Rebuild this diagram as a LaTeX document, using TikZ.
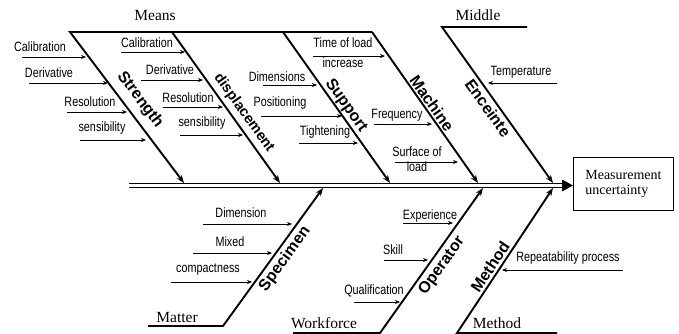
\documentclass[tikz,border=0pt]{standalone}
\usepackage{fontspec}
\setmainfont{Liberation Serif}
\newfontfamily\causefont[FakeStretch=0.8]{Liberation Sans}
\newfontfamily\bonefont{Liberation Sans}
\usetikzlibrary{arrows.meta}
\tikzset{
  cause/.style={font=\causefont\fontsize{13.5}{15}\selectfont, inner sep=0pt},
  causearrow/.style={line width=0.8pt, -{Stealth[length=5pt,width=4pt]}},
  bone/.style={line width=1.9pt, -{Stealth[length=8pt,width=6pt]}, line join=miter},
  topline/.style={line width=1.9pt},
  bonelabel/.style={font=\bonefont\bfseries\fontsize{16}{18}\selectfont, inner sep=0pt},
  catlabel/.style={font=\fontsize{15.5}{17}\selectfont, inner sep=0pt},
}
\newcommand\causeitem[5]{%
  \node[cause] (#1) at (#2) {#3};
  \coordinate (#1t) at (#4);
  \coordinate (#1h) at (#5);
  \draw[causearrow] (#1t) -- (#1h);}
\begin{document}
\begin{tikzpicture}[x=1pt,y=-1pt]
\useasboundingbox (0,0) rectangle (679,334);
% effect box
\node[draw, line width=0.9pt, minimum width=100pt, minimum height=53pt, anchor=north west,
      inner sep=0pt, align=left, font=\fontsize{14}{15}\selectfont] (box) at (573,157)
      {Measurement\\uncertainty};
% spine
\coordinate (sp0) at (129,185.5);
\coordinate (sp1) at (563,185.5);
\coordinate (ah1) at (562,179.5);
\coordinate (ah2) at (562,191.5);
\draw[double, double distance=2.6pt, line width=1.3pt] (sp0) -- (sp1);
\fill (ah1) -- (box.west |- sp1) -- (ah2) -- cycle;
% top bones
\coordinate (t1s) at (70,32);   \coordinate (t1e) at (184,183);
\coordinate (t2s) at (172,32);  \coordinate (t2e) at (280,183);
\coordinate (t3s) at (283,32);  \coordinate (t3e) at (390,183);
\coordinate (t4s) at (372,32);  \coordinate (t4e) at (478,183);
\coordinate (t5a) at (527,27);  \coordinate (t5s) at (442,27);  \coordinate (t5e) at (553,183);
\draw[bone] (t4s) -- (t1s) -- (t1e);
\draw[bone] (t2s) -- (t2e);
\draw[bone] (t3s) -- (t3e);
\draw[bone] (t4s) -- (t4e);
\draw[bone] (t5a) -- (t5s) -- (t5e);
% bottom bones
\coordinate (b1a) at (148,326); \coordinate (b1s) at (223,326); \coordinate (b1e) at (323,188);
\coordinate (b2a) at (293,333); \coordinate (b2s) at (380,333); \coordinate (b2e) at (483,188);
\coordinate (b3a) at (557,333); \coordinate (b3s) at (457,333); \coordinate (b3e) at (553,188);
\draw[bone] (b1a) -- (b1s) -- (b1e);
\draw[bone] (b2a) -- (b2s) -- (b2e);
\draw[bone] (b3a) -- (b3s) -- (b3e);
% category labels
\node[catlabel] (lMeans) at (155,16) {Means};
\node[catlabel] (lMiddle) at (478,15) {Middle};
\node[catlabel] (lMatter) at (177,317) {Matter};
\node[catlabel] (lWork) at (324,323) {Workforce};
\node[catlabel] (lMethodc) at (497,323) {Method};
% bone labels
\node[bonelabel, rotate=-53] (lStrength) at (140,100) {Strength};
\node[bonelabel, rotate=-54.4, font=\bonefont\bfseries\fontsize{14.5}{16}\selectfont] (lDisp) at (244,113) {displacement};
\node[bonelabel, rotate=-54.7] (lSupport) at (346,106) {Support};
\node[bonelabel, rotate=-54.9] (lMachine) at (432,103) {Machine};
\node[bonelabel, rotate=-54.6] (lEnc) at (488,108) {Enceinte};
\node[bonelabel, rotate=54.1] (lSpec) at (285,259) {Specimen};
\node[bonelabel, rotate=54.6] (lOp) at (442,266) {Operator};
\node[bonelabel, rotate=56.5] (lMeth) at (490,267) {Method};
% causes
\causeitem{c1}{40,47}{Calibration}{22,57}{86,57}
\causeitem{c2}{49,73}{Derivative}{29,83}{108,83}
\causeitem{c3}{90,102}{Resolution}{67,112}{127,112}
\causeitem{c4}{102,128}{sensibility}{80,140}{146,140}
\causeitem{d1}{147,43}{Calibration}{121,52}{185,52}
\causeitem{d2}{170,70}{Derivative}{141,80}{203,80}
\causeitem{d3}{188,98}{Resolution}{163,107}{223,107}
\causeitem{d4}{202,123}{sensibility}{180,135}{243,135}
\causeitem{s1}{277,77}{Dimensions}{263,85}{317,85}
\causeitem{s2}{280,103}{Positioning}{261,116}{342,116}
\causeitem{s3}{325,132}{Tightening}{299,143}{358,143}
\causeitem{m1}{343,43}{Time of load}{313,56}{385,56}
\node[cause] (m1b) at (343,63) {increase};
\causeitem{m2}{397,115}{Frequency}{374,124}{432,124}
\causeitem{m3}{417,152}{Surface of}{395,162}{458,162}
\node[cause] (m3b) at (417,167) {load};
\causeitem{e1}{521,72}{Temperature}{557,83}{488,83}
\causeitem{p1}{241,213}{Dimension}{203,224}{292,224}
\causeitem{p2}{230,242}{Mixed}{193,253}{272,253}
\causeitem{p3}{208,270}{compactness}{171,282}{252,282}
\causeitem{o1}{430,216}{Experience}{403,223}{453,223}
\causeitem{o2}{393,250}{Skill}{384,260}{428,260}
\causeitem{o3}{374,291}{Qualification}{354,302}{400,302}
\causeitem{r1}{568,258}{Repeatability process}{623,270}{502,270}
\end{tikzpicture}
\end{document}
